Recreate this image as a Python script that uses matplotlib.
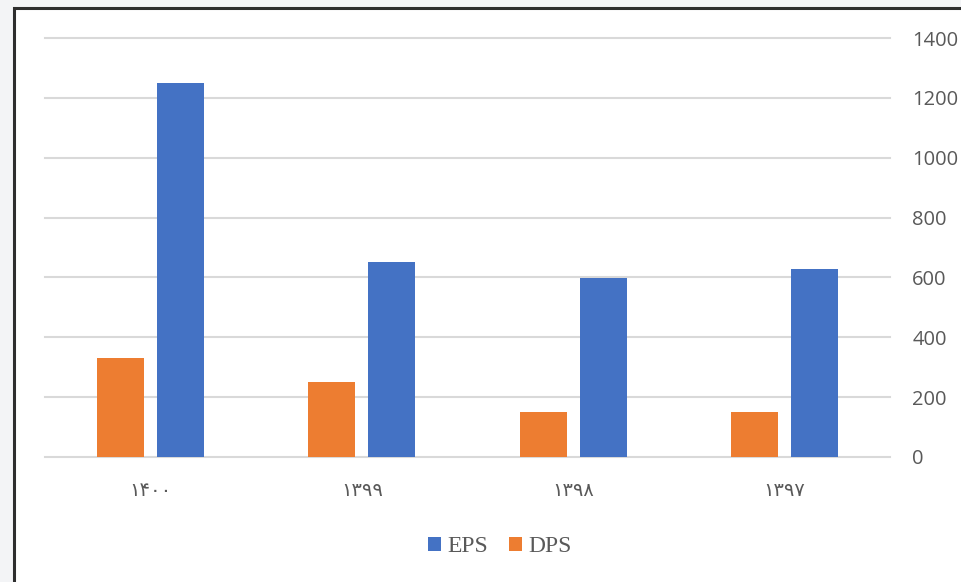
import matplotlib
matplotlib.use('Agg')
import matplotlib.pyplot as plt
from matplotlib.patches import Rectangle
import numpy as np

years = ['۱۴۰۰', '۱۳۹۹', '۱۳۹۸', '۱۳۹۷']
eps = [1250, 650, 597, 628]
dps = [330, 250, 150, 150]
y_ticks = [0, 200, 400, 600, 800, 1000, 1200, 1400]

eps_color = '#4472c4'
dps_color = '#ed7d31'
text_color = '#595959'
grid_color = '#d9d9d9'

fig = plt.figure(figsize=(9.61, 5.82), dpi=100)
fig.patch.set_facecolor('#f3f4f6')

# white chart area with dark frame (cut off on right and bottom)
fig.patches.append(Rectangle((14 / 961, -0.2), 1.3, 1 - 8 / 582 + 0.2,
                             transform=fig.transFigure, facecolor='white',
                             edgecolor='#2e2e2e', linewidth=2.2, zorder=-10))

ax = fig.add_axes([45 / 961, 1 - 457 / 582, 845 / 961, 419 / 582])
ax.set_facecolor('none')

x = np.arange(len(years))
w = 0.222
off = 0.142
ax.bar(x + off, eps, width=w, color=eps_color, label='EPS', zorder=3)
ax.bar(x - off, dps, width=w, color=dps_color, label='DPS', zorder=3)

ax.set_xlim(-0.5, len(years) - 0.5)
ax.set_ylim(0, 1400)
ax.set_yticks(y_ticks)
ax.yaxis.tick_right()
ax.tick_params(axis='y', length=0, pad=16, labelsize=14.5, labelcolor=text_color)
for lbl in ax.get_yticklabels():
    lbl.set_fontfamily('Open Sans')

ax.set_xticks(x)
ax.set_xticklabels(years, fontfamily='DejaVu Sans', fontsize=14, color=text_color)
ax.tick_params(axis='x', length=0, pad=17)

ax.grid(axis='y', color=grid_color, linewidth=1.5, zorder=0)
for gl in ax.get_ygridlines():
    gl.set_clip_on(False)
for s in ax.spines.values():
    s.set_visible(False)

leg = ax.legend(loc='center', bbox_to_anchor=(500 / 961, 1 - 547 / 582),
                bbox_transform=fig.transFigure, ncol=2, frameon=False,
                handlelength=0.55, handleheight=0.55, handletextpad=0.25,
                columnspacing=0.9, prop={'family': 'Liberation Serif', 'size': 17})
for t in leg.get_texts():
    t.set_color(text_color)

fig.savefig('out.png', dpi=100, facecolor=fig.get_facecolor())
